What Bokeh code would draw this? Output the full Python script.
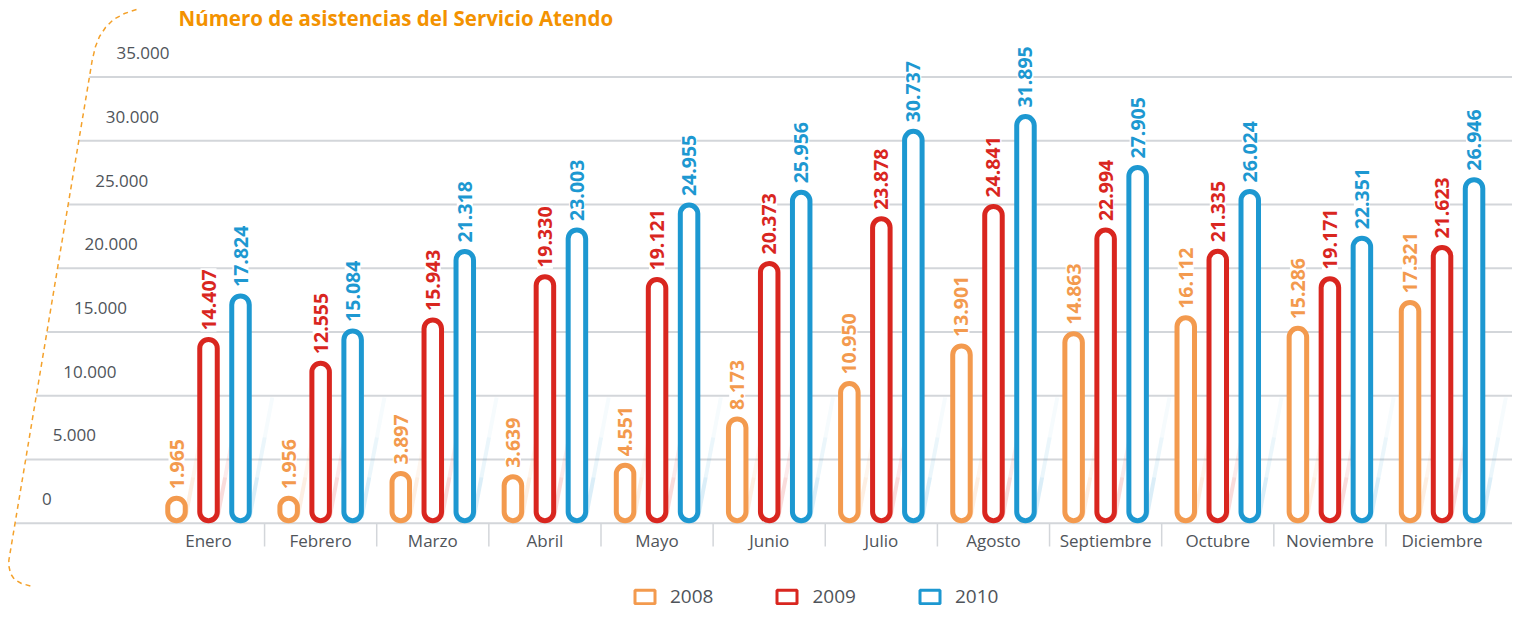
import math
from bokeh.plotting import figure
from bokeh.models import Range1d, ColumnDataSource, Legend, LegendItem
from bokeh.transform import dodge
from bokeh.core.properties import value
from bokeh.embed import file_html
from bokeh.resources import INLINE

# ---------------- data ----------------
months = ["Enero", "Febrero", "Marzo", "Abril", "Mayo", "Junio", "Julio",
          "Agosto", "Septiembre", "Octubre", "Noviembre", "Diciembre"]
years = ["2008", "2009", "2010"]
v2008 = [1965, 1956, 3897, 3639, 4551, 8173, 10950, 13901, 14863, 16112, 15286, 17321]
v2009 = [14407, 12555, 15943, 19330, 19121, 20373, 23878, 24841, 22994, 21335, 19171, 21623]
v2010 = [17824, 15084, 21318, 23003, 24955, 25956, 30737, 31895, 27905, 26024, 22351, 26946]
y_ticks = [0, 5000, 10000, 15000, 20000, 25000, 30000, 35000]
title = "Número de asistencias del Servicio Atendo"

# ---------------- styling ----------------
COLORS = ["#f39a4e", "#d9261f", "#1d98d1"]
GRID = "#d3d6da"
TEXT = "#4f545a"
ORANGE = "#f39200"
FONT_NAME = "Open Sans"
FONT = value(FONT_NAME)

# pixel helpers for decoration geometry only
PX0, PITCH = 208.0, 112.14
BASE, UPP = 522.7, 5000 / 63.74


def dx(px):
    return (px - PX0) / PITCH


def dy(py):
    return (BASE - py) * UPP


def fmt(v):
    return f"{v:,}".replace(",", ".")


def curve_px(py):
    return 95 - (py - 40) / 6.0


idx = list(range(len(months)))
src = ColumnDataSource(dict(
    idx=idx, month=months,
    v2008=v2008, v2009=v2009, v2010=v2010,
    l2008=[fmt(v) for v in v2008], l2009=[fmt(v) for v in v2009], l2010=[fmt(v) for v in v2010],
))

W, H = 1512, 609
p = figure(width=W, height=H,
           x_range=Range1d(dx(0), dx(W)), y_range=Range1d(dy(H), dy(0)),
           x_axis_type=None, y_axis_type=None,
           toolbar_location=None, output_backend="svg",
           min_border=0, outline_line_color=None)
p.background_fill_color = "white"

# gridlines (start along the slanted dashed frame)
g_y = y_ticks
g_x0 = [dx(curve_px(BASE - t / UPP)) for t in y_ticks]
p.segment(x0=g_x0, y0=g_y, x1=[dx(W + 20)] * len(g_y), y1=g_y, line_color=GRID, line_width=2)

# y tick labels
p.text(x=[dx(curve_px(BASE - t / UPP) + 27) for t in y_ticks], y=y_ticks,
       text=[fmt(t) for t in y_ticks], text_align="left", text_baseline="alphabetic",
       y_offset=-24, text_font=FONT, text_font_size="17px", text_color=TEXT)

# dashed frame curve (decoration)
curve_pts = [(136, 9), (124, 13), (113, 19), (105, 27), (99, 36), (95, 46)]
for py in range(60, 561, 20):
    curve_pts.append((curve_px(py), py))
curve_pts += [(8.5, 566), (10, 573), (14, 579), (21, 583), (32, 586)]
p.line(x=[dx(a) for a, b in curve_pts], y=[dy(b) for a, b in curve_pts],
       line_color="#f4a12a", line_width=1.5, line_dash="5 4")

# month separators
p.segment(x0=[i + 0.5 for i in idx[:-1]], y0=[dy(523)] * 11,
          x1=[i + 0.5 for i in idx[:-1]], y1=[dy(546)] * 11,
          line_color=GRID, line_width=1.5)

# month labels
p.text(x="idx", y=dy(540), text="month", source=src, text_align="center",
       text_baseline="alphabetic", text_font=FONT, text_font_size="17px", text_color=TEXT)

offsets = [-32 / PITCH, 0.0, 32 / PITCH]
cols = ["v2008", "v2009", "v2010"]
labs = ["l2008", "l2009", "l2010"]
BAR_W = 17.5 / PITCH
BOTTOM = 2.5 * UPP

# faint reflections
for off, c in zip(offsets, COLORS):
    for k, a in enumerate([0.16, 0.09, 0.04]):
        p.segment(x0=[i + off + 9 / PITCH + 0.19 * 40 * k / PITCH for i in idx],
                  y0=[dy(517 - 40 * k)] * 12,
                  x1=[i + off + 9 / PITCH + 0.19 * 40 * (k + 1) / PITCH for i in idx],
                  y1=[dy(517 - 40 * (k + 1))] * 12,
                  line_color=c, line_alpha=a, line_width=4)

for off, col, lab, c in zip(offsets, cols, labs, COLORS):
    xx = dodge("idx", off, range=p.x_range)
    p.vbar(x=xx, top=col, bottom=BOTTOM, width=BAR_W, source=src,
           fill_color="white", line_color=c, line_width=5, border_radius=9)
    p.text(x=xx, y=col, text=lab, source=src, angle=math.pi / 2,
           text_align="left", text_baseline="middle", y_offset=-8,
           text_font=FONT, text_font_style="bold", text_font_size="19.5px",
           text_color=c, background_fill_color="white", padding=1)

# title (at the very top, as in the reference)
p.text(x=[dx(178)], y=[dy(17)], text=[title], text_align="left",
       text_baseline="alphabetic", text_font=FONT, text_font_style="bold",
       text_font_size="20.5px", text_color=ORANGE)

# legend (proxy renderers drawn outside the visible range)
items = []
for yr, c in zip(years, COLORS):
    proxy = ColumnDataSource(dict(x=[dx(-500)], top=[dy(-500)]))
    r = p.vbar(x="x", top="top", bottom=dy(-520), width=0.1, source=proxy,
               fill_color="white", line_color=c, line_width=3, border_radius=7)
    items.append(LegendItem(label=yr, renderers=[r]))
legend = Legend(items=items, orientation="horizontal", location=(632, 0),
                glyph_width=25, glyph_height=17, label_standoff=13, spacing=61,
                padding=0, margin=0, border_line_color=None, background_fill_alpha=0,
                label_text_font=FONT_NAME, label_text_font_size="19px", label_text_color=TEXT)
p.add_layout(legend, "center")

open("out.html", "w").write(file_html(p, INLINE))
